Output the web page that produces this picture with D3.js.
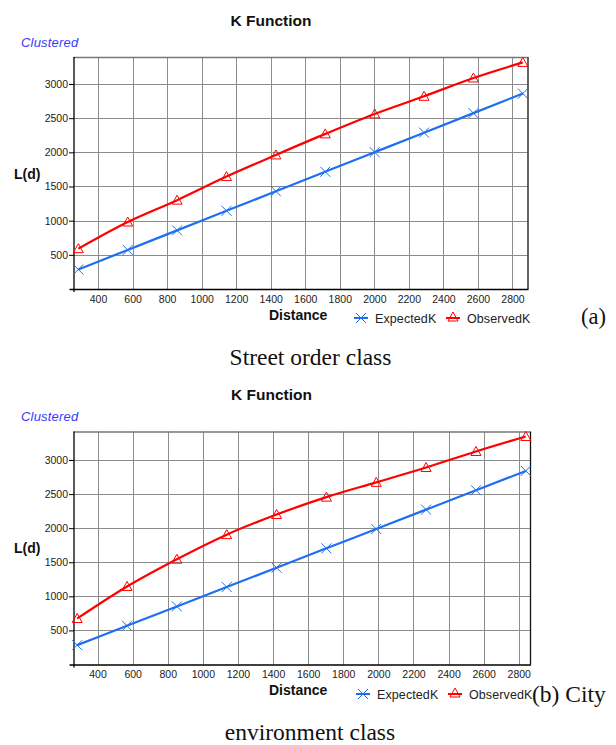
<!DOCTYPE html>
<html><head><meta charset="utf-8">
<script src="https://cdn.jsdelivr.net/npm/d3@7"></script>
<style>body{margin:0;background:#fff}svg{display:block}</style>
</head><body>
<svg id="c" width="616" height="745"></svg>
<script>
const xTicks = [400, 600, 800, 1000, 1200, 1400, 1600, 1800, 2000, 2200, 2400, 2600, 2800];
const yTicks = [500, 1000, 1500, 2000, 2500, 3000];
const distanceA = [286, 572, 858, 1144, 1430, 1716, 2002, 2288, 2574, 2860];
const expectedA = [286, 572, 858, 1144, 1430, 1716, 2002, 2288, 2574, 2860];
const observedA = [590, 980, 1300, 1645, 1962, 2270, 2562, 2820, 3088, 3316];
const distanceB = [284, 568, 852, 1136, 1420, 1704, 1988, 2272, 2556, 2840];
const expectedB = [284, 568, 852, 1136, 1420, 1704, 1988, 2272, 2556, 2840];
const observedB = [675, 1145, 1545, 1905, 2200, 2455, 2672, 2890, 3125, 3345];
const seriesNames = ["ExpectedK", "ObservedK"];
const colors = {ExpectedK: "#1e6ff0", ObservedK: "#ff0000"};

const svg = d3.select("#c");

function xMark(g, x, y, c) {
  const s = 5;
  g.append("path").attr("d", `M${x-s},${y-s}L${x+s},${y+s}M${x-s},${y+s}L${x+s},${y-s}`)
    .attr("stroke", c).attr("stroke-width", 1).attr("fill", "none");
}
function triMark(g, x, y, c) {
  g.append("path").attr("d", `M${x},${y-5}L${x+5},${y+4}L${x-5},${y+4}Z`)
    .attr("stroke", c).attr("stroke-width", 1).attr("fill", "none");
}

function drawChart(cfg) {
  const g = svg.append("g");
  const x = d3.scaleLinear().domain(cfg.xDomain).range([cfg.left, cfg.right]);
  const y = d3.scaleLinear().domain(cfg.yDomain).range([cfg.bottom, cfg.top]);

  g.append("g").selectAll("line").data(xTicks).join("line")
    .attr("x1", d => Math.round(x(d)) + 0.5).attr("x2", d => Math.round(x(d)) + 0.5)
    .attr("y1", cfg.top).attr("y2", cfg.bottom)
    .attr("stroke", "#8c8c8c").attr("stroke-width", 1);
  g.append("g").selectAll("line").data(yTicks).join("line")
    .attr("y1", d => Math.round(y(d)) + 0.5).attr("y2", d => Math.round(y(d)) + 0.5)
    .attr("x1", cfg.left).attr("x2", cfg.right)
    .attr("stroke", "#8c8c8c").attr("stroke-width", 1);
  g.append("line").attr("x1", cfg.left).attr("x2", cfg.right).attr("y1", cfg.top + 0.5).attr("y2", cfg.top + 0.5)
    .attr("stroke", "#777").attr("stroke-width", 1.3);
  g.append("line").attr("x1", cfg.right + 0.5).attr("x2", cfg.right + 0.5).attr("y1", cfg.top).attr("y2", cfg.bottom)
    .attr("stroke", "#111").attr("stroke-width", 1.3);

  const yAxis = d3.axisLeft(y).tickValues(yTicks).tickSize(5).tickFormat(d3.format("d"));
  const ya = g.append("g").attr("transform", `translate(${cfg.left + 0.5},0)`).call(yAxis);
  ya.select(".domain").remove();
  ya.append("line").attr("x1", 0).attr("x2", 0).attr("y1", cfg.top).attr("y2", cfg.bottom + 3).attr("stroke", "#000").attr("stroke-width", 1.3);
  ya.selectAll(".tick line").attr("stroke", "#000");
  ya.selectAll(".tick text").attr("font-family", "Liberation Sans, Arial, sans-serif").attr("font-size", 10.5).attr("fill", "#222").attr("x", -6);

  const xAxis = d3.axisBottom(x).tickValues(xTicks).tickSize(0).tickPadding(6).tickFormat(d3.format("d"));
  const xa = g.append("g").attr("transform", `translate(0,${cfg.bottom + 0.5})`).call(xAxis);
  xa.select(".domain").remove();
  xa.append("line").attr("x1", cfg.left - 4).attr("x2", cfg.right + 1).attr("y1", 0).attr("y2", 0).attr("stroke", "#000").attr("stroke-width", 1.3);
  xa.selectAll(".tick text").attr("font-family", "Liberation Sans, Arial, sans-serif").attr("font-size", 10.5).attr("fill", "#222");

  const line = d3.line().x(d => x(d[0])).y(d => y(d[1])).curve(d3.curveMonotoneX);
  const dataE = cfg.dist.map((d, i) => [d, cfg.exp[i]]);
  const dataO = cfg.dist.map((d, i) => [d, cfg.obs[i]]);
  g.append("path").datum(dataE).attr("d", line).attr("fill", "none").attr("stroke", colors.ExpectedK).attr("stroke-width", 2.2);
  g.append("path").datum(dataO).attr("d", line).attr("fill", "none").attr("stroke", colors.ObservedK).attr("stroke-width", 2.2);
  dataE.forEach(d => xMark(g, x(d[0]), y(d[1]), colors.ExpectedK));
  dataO.forEach(d => triMark(g, x(d[0]), y(d[1]), colors.ObservedK));

  g.append("text").attr("x", cfg.titleX).attr("y", cfg.titleY).attr("text-anchor", "middle")
    .attr("font-family", "Liberation Sans, Arial, sans-serif").attr("font-weight", "bold").attr("font-size", 15.5)
    .attr("fill", "#111").text("K Function");
  g.append("text").attr("x", 21).attr("y", cfg.clusY)
    .attr("font-family", "Liberation Sans, Arial, sans-serif").attr("font-style", "italic").attr("font-size", 13)
    .attr("letter-spacing", 0.2).attr("fill", "#3a3aff").text("Clustered");
  g.append("text").attr("x", 14).attr("y", cfg.ldY)
    .attr("font-family", "Liberation Sans, Arial, sans-serif").attr("font-weight", "bold").attr("font-size", 14)
    .attr("fill", "#111").text("L(d)");
  g.append("text").attr("x", 269).attr("y", cfg.distY)
    .attr("font-family", "Liberation Sans, Arial, sans-serif").attr("font-weight", "bold").attr("font-size", 14)
    .attr("fill", "#111").text("Distance");

  const lg = g.append("g");
  const ly = cfg.legY;
  seriesNames.forEach((name, i) => {
    const mx = cfg.legX[i];
    lg.append("line").attr("x1", mx).attr("x2", mx + 14).attr("y1", ly).attr("y2", ly).attr("stroke", colors[name]).attr("stroke-width", 2);
    if (i === 0) xMark(lg, mx + 7, ly, colors[name]); else triMark(lg, mx + 7, ly - 1, colors[name]);
    lg.append("text").attr("x", mx + 21).attr("y", ly + 4.5)
      .attr("font-family", "Liberation Sans, Arial, sans-serif").attr("font-size", 12.5).attr("letter-spacing", 0.1)
      .attr("fill", "#222").text(name);
  });
}

drawChart({
  left: 73.5, right: 527.5, top: 57, bottom: 289,
  xDomain: [258, 2887], yDomain: [0, 3395],
  dist: distanceA, exp: expectedA, obs: observedA,
  titleX: 271, titleY: 25.5, clusY: 47, ldY: 179, distY: 320,
  legY: 318, legX: [354, 446]
});
drawChart({
  left: 73.5, right: 530, top: 431.5, bottom: 664.5,
  xDomain: [263, 2864], yDomain: [0, 3418],
  dist: distanceB, exp: expectedB, obs: observedB,
  titleX: 271.5, titleY: 399.5, clusY: 421, ldY: 553, distY: 695,
  legY: 694, legX: [356, 448]
});

const serif = "Liberation Serif, Times New Roman, serif";
svg.append("text").attr("x", 581).attr("y", 324).attr("font-family", serif).attr("font-size", 22.5).attr("fill", "#111").text("(a)");
svg.append("text").attr("x", 310.5).attr("y", 365).attr("text-anchor", "middle").attr("font-family", serif).attr("font-size", 23.5).attr("fill", "#111").text("Street order class");
svg.append("text").attr("x", 532).attr("y", 701.5).attr("font-family", serif).attr("font-size", 23.5).attr("fill", "#111").text("(b) City");
svg.append("text").attr("x", 310).attr("y", 740).attr("text-anchor", "middle").attr("font-family", serif).attr("font-size", 23.5).attr("fill", "#111").text("environment class");
</script>
</body></html>
